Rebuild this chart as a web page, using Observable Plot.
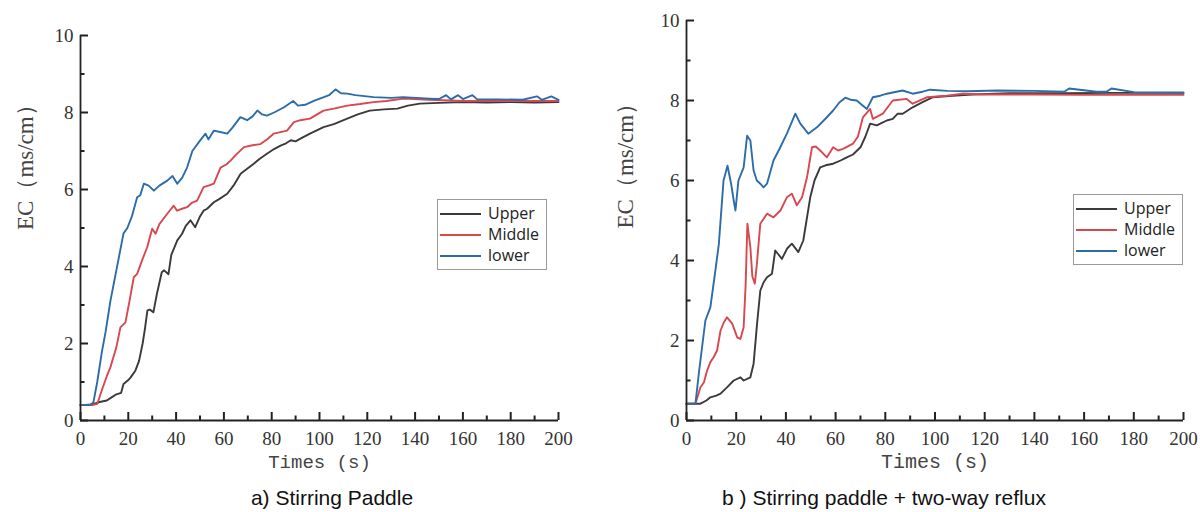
<!DOCTYPE html>
<html>
<head>
<meta charset="utf-8">
<script src="https://cdn.jsdelivr.net/npm/d3@7"></script>
<script src="https://cdn.jsdelivr.net/npm/@observablehq/plot@0.6"></script>
<style>
  html, body { margin: 0; padding: 0; background: #fff; }
  body { width: 1200px; height: 512px; overflow: hidden; position: relative; }
  .panel { position: absolute; top: 0; width: 600px; height: 490px; }
  .panel svg { max-width: none !important; }
  .legend { position: absolute; border: 1px solid #9a9a9a; background: #fff; box-sizing: border-box; padding-top: 3px; }
  .legend .row { display: flex; align-items: center; height: 21px; }
  .legend .swatch { width: 41px; height: 2px; margin-left: 2px; }
  .legend .lab { margin-left: 7px; font-family: "Open Sans", "Liberation Sans", sans-serif; font-size: 16px; color: #222; line-height: 21px; }
  .caption { position: absolute; top: 487px; transform: translateX(-50%); white-space: nowrap;
             font-family: "Liberation Sans", Arial, sans-serif; font-size: 21px; line-height: 21px; color: #111; }
</style>
</head>
<body>
<div id="pa" class="panel" style="left:0px"></div>
<div id="pb" class="panel" style="left:600px"></div>
<script>
// ---- shared labels / ticks ----
const seriesNames = ["Upper", "Middle", "lower"];
const seriesColors = ["#3a3a3a", "#d9474f", "#2c6ca8"];
const xMajorTicks = [0, 20, 40, 60, 80, 100, 120, 140, 160, 180, 200];
const xMinorTicks = [10, 30, 50, 70, 90, 110, 130, 150, 170, 190];
const yMajorTicks = [0, 2, 4, 6, 8, 10];
const yMinorTicks = [1, 3, 5, 7, 9];
const xTitle = "Times (s)";
const yTitle = "EC（ms/cm）";
const captionA = "a) Stirring Paddle";
const captionB = "b ) Stirring paddle + two-way reflux";

// ---- panel a) Stirring Paddle ----
const aUpperT = [0, 5, 8, 11, 13, 15, 17, 18, 20, 21, 23, 24.5, 26, 27, 28, 29, 30.5, 32, 34, 35, 36.8, 38, 40.5, 42.5, 44, 46, 48, 50, 51.5, 53, 55.8, 58, 61.4, 64, 67, 70, 72.5, 75, 78, 81, 83.7, 86, 88, 90, 92, 96, 101.7, 106, 111.6, 116, 121, 127, 132.6, 137, 142, 150, 160, 170, 180, 190, 200];
const aUpperV = [0.4, 0.42, 0.48, 0.52, 0.6, 0.68, 0.72, 0.95, 1.05, 1.12, 1.3, 1.55, 2.0, 2.4, 2.86, 2.88, 2.81, 3.3, 3.85, 3.9, 3.8, 4.3, 4.68, 4.85, 5.05, 5.2, 5.02, 5.3, 5.45, 5.5, 5.67, 5.75, 5.89, 6.1, 6.41, 6.55, 6.67, 6.8, 6.93, 7.05, 7.14, 7.2, 7.28, 7.25, 7.32, 7.45, 7.62, 7.7, 7.84, 7.95, 8.05, 8.08, 8.1, 8.18, 8.23, 8.25, 8.27, 8.26, 8.27, 8.26, 8.27];
const aMiddleT = [0, 5, 7, 9, 11, 12.5, 15, 16.7, 18.8, 20.5, 22.3, 23.7, 26, 27.9, 30, 31.4, 33, 36.3, 39, 40.4, 42.5, 44.6, 46.5, 48.8, 51.5, 53.5, 55.8, 58.6, 61, 62.8, 65, 68.4, 72, 75.3, 78, 80.8, 83.7, 86.4, 89.3, 92, 96, 99, 101.7, 106, 111.6, 117, 122.6, 128, 135, 146, 160, 175, 190, 200];
const aMiddleV = [0.4, 0.4, 0.43, 0.8, 1.15, 1.38, 1.9, 2.42, 2.55, 3.1, 3.72, 3.81, 4.2, 4.5, 4.98, 4.85, 5.1, 5.37, 5.58, 5.45, 5.5, 5.54, 5.65, 5.71, 6.06, 6.1, 6.15, 6.57, 6.65, 6.75, 6.9, 7.1, 7.15, 7.18, 7.3, 7.45, 7.49, 7.53, 7.75, 7.8, 7.84, 7.95, 8.05, 8.1, 8.18, 8.22, 8.27, 8.3, 8.36, 8.33, 8.3, 8.3, 8.3, 8.3];
const aLowerT = [0, 4, 5.4, 7, 9, 10.5, 12.5, 15, 18, 19.6, 21.5, 23.7, 25, 26.5, 28.5, 30.7, 33, 36.3, 38.5, 40.5, 42.5, 44.6, 46.8, 50, 52.3, 53.5, 55.8, 58, 61.4, 63.5, 66.9, 69.7, 72, 74, 76, 78, 81, 85, 89, 91, 94, 97.6, 101, 104, 106.7, 109, 111.6, 115, 122.6, 130, 135, 146, 150, 153, 155, 158, 160, 164, 166, 175, 185, 191, 193, 197, 200];
const aLowerV = [0.4, 0.4, 0.47, 1.0, 1.8, 2.3, 3.1, 3.9, 4.86, 5.0, 5.3, 5.8, 5.85, 6.15, 6.1, 5.97, 6.1, 6.23, 6.35, 6.15, 6.3, 6.57, 7.0, 7.27, 7.45, 7.3, 7.53, 7.5, 7.45, 7.6, 7.88, 7.8, 7.9, 8.05, 7.95, 7.92, 8.0, 8.13, 8.3, 8.18, 8.2, 8.3, 8.38, 8.45, 8.6, 8.5, 8.49, 8.45, 8.4, 8.38, 8.4, 8.36, 8.35, 8.45, 8.34, 8.45, 8.35, 8.45, 8.34, 8.34, 8.33, 8.42, 8.33, 8.42, 8.33];

// ---- panel b) Stirring paddle + two-way reflux ----
const bUpperT = [0, 3, 5.6, 8, 9.6, 12, 13.7, 16.3, 19, 21.7, 23, 25.7, 27, 28.4, 29.7, 31, 32.4, 34.4, 35.7, 37, 38.4, 40.5, 42.4, 45, 47, 49.8, 51.5, 53.8, 56, 59, 62, 64.5, 67, 70, 72, 73.9, 76.6, 78, 80.6, 83, 85, 87, 91, 95, 99, 103, 107, 115, 130, 150, 170, 200];
const bUpperV = [0.42, 0.42, 0.42, 0.5, 0.58, 0.62, 0.67, 0.83, 1.0, 1.08, 1.0, 1.08, 1.42, 2.42, 3.25, 3.45, 3.58, 3.67, 4.25, 4.15, 4.04, 4.3, 4.42, 4.21, 4.5, 5.58, 6.0, 6.33, 6.38, 6.42, 6.5, 6.58, 6.65, 6.83, 7.1, 7.42, 7.38, 7.42, 7.5, 7.54, 7.67, 7.67, 7.83, 7.96, 8.08, 8.1, 8.12, 8.15, 8.18, 8.18, 8.19, 8.19];
const bMiddleT = [0, 3.6, 5.6, 7, 8.3, 9.6, 10.9, 12.3, 13.7, 15, 16.3, 18.4, 20.4, 21.7, 23, 23.8, 24.5, 25.7, 26.5, 27.5, 28.3, 29.7, 32.4, 35, 37.8, 40.4, 42.4, 44.4, 46.5, 48.5, 50.5, 52, 53.8, 56.5, 59, 61, 63, 67, 69, 71, 73.9, 75, 79, 83, 88.6, 91, 96.7, 104.8, 111, 120, 140, 160, 180, 200];
const bMiddleV = [0.42, 0.42, 0.83, 0.95, 1.25, 1.46, 1.58, 1.75, 2.25, 2.45, 2.58, 2.42, 2.08, 2.04, 2.33, 3.4, 4.92, 4.33, 3.6, 3.42, 3.9, 4.92, 5.17, 5.08, 5.25, 5.58, 5.67, 5.38, 5.58, 6.08, 6.83, 6.85, 6.75, 6.58, 6.83, 6.75, 6.79, 6.92, 7.1, 7.58, 7.79, 7.54, 7.67, 8.0, 8.04, 7.92, 8.08, 8.12, 8.17, 8.15, 8.15, 8.14, 8.14, 8.14];
const bLowerT = [0, 3.6, 5, 7.6, 9.6, 11.3, 13, 14.9, 16.5, 18, 19, 19.7, 20.9, 23, 24.4, 25.7, 27, 28.3, 29.7, 31, 32.4, 35, 37.5, 40.4, 43.8, 45.8, 49, 52.5, 56, 59, 61.5, 63.9, 66, 68.5, 71, 72.6, 75, 78, 80.6, 83, 87, 91, 95, 98, 105, 113, 125, 140, 152, 154, 165, 169, 171, 180, 200];
const bLowerV = [0.42, 0.42, 1.2, 2.5, 2.83, 3.6, 4.4, 6.0, 6.37, 5.9, 5.5, 5.25, 6.0, 6.33, 7.12, 7.0, 6.25, 6.0, 5.92, 5.83, 5.92, 6.5, 6.8, 7.17, 7.67, 7.42, 7.17, 7.33, 7.55, 7.75, 7.95, 8.07, 8.02, 8.0, 7.87, 7.79, 8.08, 8.12, 8.17, 8.2, 8.25, 8.17, 8.22, 8.27, 8.24, 8.23, 8.25, 8.24, 8.22, 8.3, 8.22, 8.22, 8.3, 8.21, 8.2];

function toRows(ts, vs, name) { return ts.map((t, i) => ({t, v: vs[i], name})); }

const axisColor = "#222";
const serif = "Liberation Serif";
const mono = "Liberation Mono";
const W = 600, H = 490, MB = 70;

function drawPanel(el, cfg) {
  const data = cfg.series.flatMap(s => toRows(s[0], s[1], s[2]));
  // convert tick lengths (pixels) into data units of each scale
  const yUnit = 10 / (H - MB - cfg.mT);
  const xUnit = 200 / (W - cfg.mL - cfg.mR);
  const tk = {stroke: axisColor, strokeWidth: 2};
  const chart = Plot.plot({
    width: W, height: H,
    marginLeft: cfg.mL, marginRight: cfg.mR, marginTop: cfg.mT, marginBottom: MB,
    style: {background: "transparent", overflow: "visible"},
    x: {domain: [0, 200], axis: null},
    y: {domain: [0, 10], axis: null},
    color: {domain: seriesNames, range: seriesColors},
    marks: [
      Plot.line(data, {x: "t", y: "v", z: "name", stroke: "name", strokeWidth: 1.9, strokeLinejoin: "round"}),
      // inward tick marks
      Plot.ruleX(xMinorTicks, {x: d => d, y1: 0, y2: 4.5 * yUnit, ...tk}),
      Plot.ruleX(xMajorTicks, {x: d => d, y1: 0, y2: 8 * yUnit, ...tk}),
      Plot.ruleY(yMinorTicks, {y: d => d, x1: 0, x2: 4.5 * xUnit, ...tk}),
      Plot.ruleY(yMajorTicks, {y: d => d, x1: 0, x2: 8 * xUnit, ...tk}),
      // axis lines
      Plot.ruleY([0], {stroke: axisColor, strokeWidth: 1.8}),
      Plot.ruleX([0], {stroke: axisColor, strokeWidth: 1.8}),
      // tick labels
      Plot.text(xMajorTicks, {x: d => d, text: d => String(d), frameAnchor: "bottom", dy: 11, lineAnchor: "top", fontFamily: serif, fontSize: 19, fill: "#333"}),
      Plot.text(yMajorTicks, {y: d => d, text: d => String(d), frameAnchor: "left", dx: -7, textAnchor: "end", fontFamily: serif, fontSize: 19, fill: "#333"}),
      // titles
      Plot.text([xTitle], {text: d => d, frameAnchor: "bottom", dy: 47, fontFamily: mono, fontSize: cfg.xtSize, fill: "#444"}),
      Plot.text([yTitle], {text: d => d, frameAnchor: "left", rotate: -90, dx: -(cfg.mL - 25), dy: cfg.ytDy, fontFamily: serif, fontSize: 23, fill: "#444"})
    ]
  });
  el.appendChild(chart);
}

function drawLegend(left, top) {
  const box = document.createElement("div");
  box.className = "legend";
  box.style.left = left + "px";
  box.style.top = top + "px";
  box.style.width = "110px";
  box.style.height = "71px";
  seriesNames.forEach((n, i) => {
    const row = document.createElement("div");
    row.className = "row";
    const sw = document.createElement("span");
    sw.className = "swatch";
    sw.style.background = seriesColors[i];
    const lab = document.createElement("span");
    lab.className = "lab";
    lab.textContent = n;
    row.appendChild(sw); row.appendChild(lab);
    box.appendChild(row);
  });
  document.body.appendChild(box);
}

function drawCaption(text, cx) {
  const c = document.createElement("div");
  c.className = "caption";
  c.style.left = cx + "px";
  c.textContent = text;
  document.body.appendChild(c);
}

drawPanel(document.getElementById("pa"), {
  mL: 80, mR: 42, mT: 35, xtSize: 19, ytDy: 2,
  series: [[aUpperT, aUpperV, "Upper"], [aMiddleT, aMiddleV, "Middle"], [aLowerT, aLowerV, "lower"]]
});
drawPanel(document.getElementById("pb"), {
  mL: 86, mR: 17, mT: 20, xtSize: 20, ytDy: 8,
  series: [[bUpperT, bUpperV, "Upper"], [bMiddleT, bMiddleV, "Middle"], [bLowerT, bLowerV, "lower"]]
});
drawLegend(437, 199);
drawLegend(1073, 194);
drawCaption(captionA, 332);
drawCaption(captionB, 884);
</script>
</body>
</html>
